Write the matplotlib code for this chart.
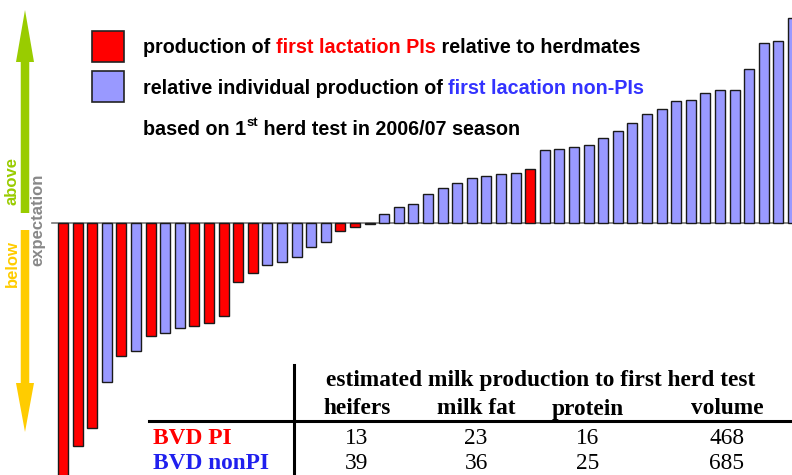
import matplotlib.pyplot as plt
import numpy as np
from matplotlib.patches import FancyArrow, Rectangle
from matplotlib.transforms import IdentityTransform

# relative production of each first-lactation heifer (sorted), PI or nonPI
rel_prod = [-255, -223, -205.5, -159, -133, -128, -113, -110, -105, -103, -100.5,
            -93.5, -59, -50, -42.5, -39.5, -34, -24, -19, -8, -4, -1.5,
            8.5, 15.5, 18.5, 29, 35, 40, 45, 47, 49, 50, 53.5, 73, 74, 75.5, 78,
            85, 92, 100, 109, 114, 121.5, 122.5, 130, 133, 133, 154, 180, 182, 204.5]
status = ['PI', 'PI', 'PI', 'non', 'PI', 'non', 'PI', 'non', 'non', 'PI', 'PI',
          'PI', 'PI', 'PI', 'non', 'non', 'non', 'non', 'non', 'PI', 'PI', 'non',
          'non', 'non', 'non', 'non', 'non', 'non', 'non', 'non', 'non', 'non', 'PI',
          'non', 'non', 'non', 'non', 'non', 'non', 'non', 'non', 'non', 'non',
          'non', 'non', 'non', 'non', 'non', 'non', 'non', 'non']

# table
table_title = 'estimated milk production to first herd test'
table_cols = ['heifers', 'milk fat', 'protein', 'volume']
table_rows = ['BVD PI', 'BVD nonPI']
table_vals = [[13, 23, 16, 468],
              [39, 36, 25, 685]]

RED = '#ff0000'
BLUE = '#9999ff'
W, H = 792, 475

fig = plt.figure(figsize=(W / 100, H / 100), dpi=100)
ax = fig.add_axes([0, 0, 1, 1])
ax.set_axis_off()

# bar layout in pixel-like units: baseline at y=222.5 from the top
pitch = 14.6
x0 = 63
ax.set_xlim(-x0 / pitch, (W - x0) / pitch)
ax.set_ylim(222.5 - H, 222.5)

idx = np.arange(len(rel_prod))
cols = [RED if s == 'PI' else BLUE for s in status]
ax.plot([-11 / pitch, len(rel_prod) + 1], [0, 0], color='#777777', lw=1.2, zorder=1)
ax.bar(idx, rel_prod, width=0.68, color=cols, edgecolor='#1a1a1a', linewidth=1.0, zorder=2)

ident = IdentityTransform()


def px(x, y):
    # image pixel (top-left origin) -> display coords
    return x, H - y


def arrow(x, y_tail, y_tip, color, head_len):
    xt, yt = px(x, y_tail)
    _, yp = px(x, y_tip)
    fig.add_artist(FancyArrow(xt, yt, 0, yp - yt, width=8.5, head_width=18,
                              head_length=head_len, length_includes_head=True,
                              color=color, transform=ident, lw=0))


arrow(25, 213, 10, '#99cc00', 52)
arrow(25, 230, 432, '#ffcc00', 49)

sans = 'Liberation Sans'
fig.text(12 / W, 1 - 181 / H, 'above', rotation=90, color='#99cc00', fontsize=12,
         fontweight='bold', family=sans, ha='center', va='center')
fig.text(12 / W, 1 - 264 / H, 'below', rotation=90, color='#ffcc00', fontsize=12,
         fontweight='bold', family=sans, ha='center', va='center')
fig.text(37.5 / W, 1 - 220 / H, 'expectation', rotation=90, color='#888888', fontsize=12,
         fontweight='bold', family=sans, ha='center', va='center')

# legend squares
for ytop, c in [(31, RED), (71, BLUE)]:
    xx, yy = px(92, ytop + 31)
    fig.add_artist(Rectangle((xx, yy), 32, 31, facecolor=c, edgecolor='#222222',
                             lw=1.2, transform=ident))

LSIZE = 14.2


def chain(pieces, x, y, size=LSIZE):
    prev = fig.text(x / W, 1 - y / H, pieces[0][0], color=pieces[0][1], fontsize=size,
                    fontweight='bold', family=sans, va='baseline', ha='left')
    for s, c in pieces[1:]:
        prev = ax.annotate(s, xy=(1, 0), xycoords=prev, color=c, fontsize=size,
                           fontweight='bold', family=sans, va='bottom', ha='left')
    return prev


chain([('production of ', 'black'), ('first lactation PIs', RED),
       (' relative to herdmates', 'black')], 143, 53)
chain([('relative individual production of ', 'black'),
       ('first lacation non-PIs', '#3333ff')], 143, 94)

t1 = fig.text(143 / W, 1 - 135 / H, 'based on 1', fontsize=LSIZE, fontweight='bold',
              family=sans, va='baseline', ha='left')
t2 = ax.annotate('st', xy=(1, 0.55), xycoords=t1, fontsize=9.5, fontweight='bold',
                 family=sans, va='bottom', ha='left')
fig.canvas.draw()
r = fig.canvas.get_renderer()
bb2 = t2.get_window_extent(r)
fig.text(bb2.x1 / W, 1 - 135 / H, ' herd test in 2006/07 season', fontsize=LSIZE,
         fontweight='bold', family=sans, va='baseline', ha='left')

# table
serif = 'Liberation Serif'
TSIZE = 16.8
fig.add_artist(plt.Line2D([294 / W, 294 / W], [0, 1 - 365 / H], color='black', lw=2.2))
fig.add_artist(plt.Line2D([149 / W, 1], [1 - 421 / H, 1 - 421 / H], color='black', lw=2.2))
fig.text(541 / W, 1 - 386 / H, table_title, fontsize=TSIZE, fontweight='bold',
         family=serif, ha='center', va='baseline')
col_x = [357, 476, 588, 727]
for cx, name in zip(col_x, table_cols):
    fig.text(cx / W, 1 - 414.5 / H, name, fontsize=TSIZE, fontweight='bold',
             family=serif, ha='center', va='baseline')
row_y = [443.5, 469]
row_c = ['#ff0000', '#2020ee']
for ry, name, rc, vals in zip(row_y, table_rows, row_c, table_vals):
    fig.text(153 / W, 1 - ry / H, name, fontsize=TSIZE, fontweight='bold', color=rc,
             family=serif, ha='left', va='baseline')
    for cx, v in zip(col_x, vals):
        fig.text(cx / W, 1 - ry / H, str(v), fontsize=TSIZE, family=serif,
                 ha='center', va='baseline')

fig.savefig('out.png', dpi=100)
